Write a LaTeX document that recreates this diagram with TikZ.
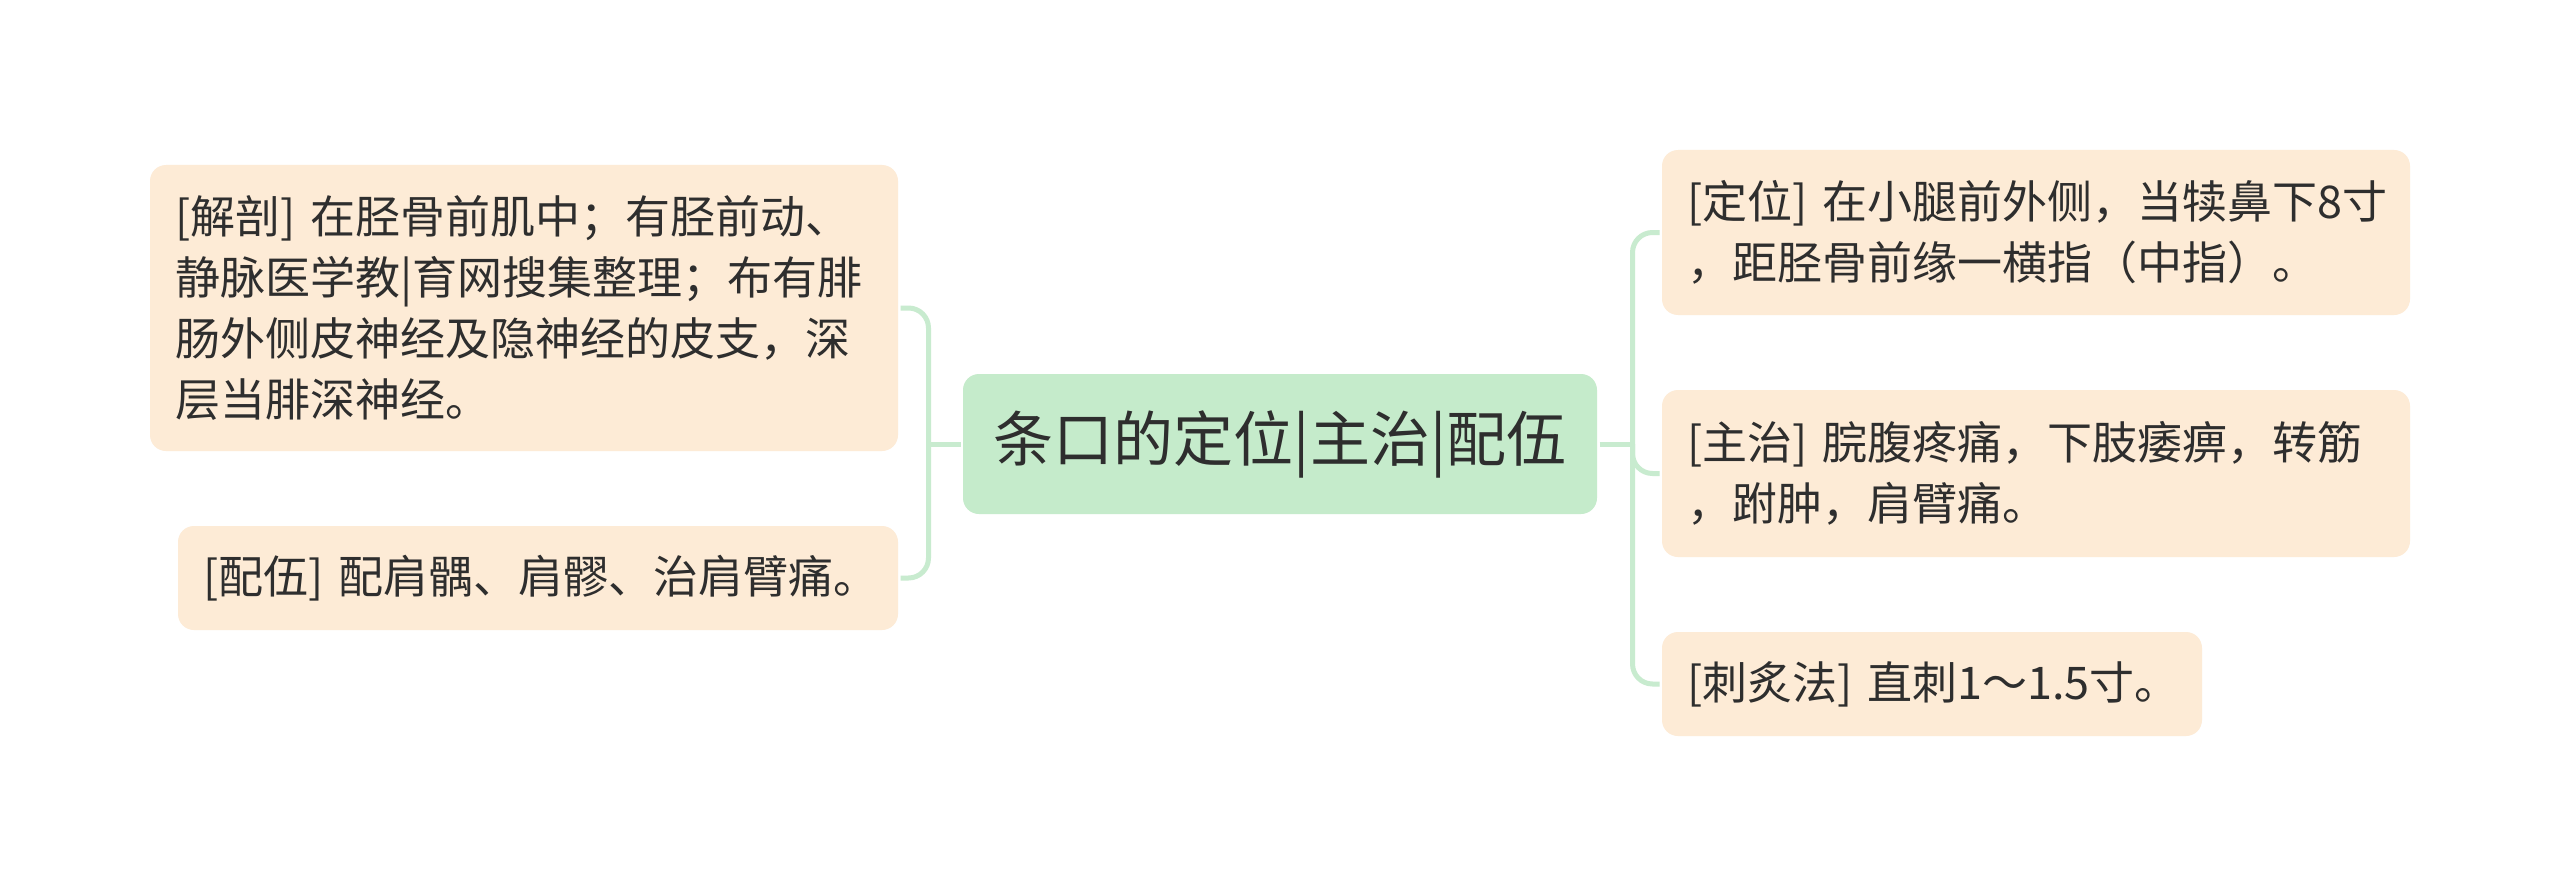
\documentclass[tikz,border=0pt]{standalone}
\usepackage{fontspec}
\setmainfont{Noto Sans CJK SC}
\usetikzlibrary{positioning, calc}
\definecolor{cgreen}{HTML}{C5EBCB}
\definecolor{cpeach}{HTML}{FDEBD6}
\definecolor{cline}{HTML}{C8EBCF}
\definecolor{ctext}{HTML}{2E2E2E}
\tikzset{
  every picture/.style={line width=5pt},
  topic/.style={fill=cgreen, rounded corners=16pt, text=ctext, font=\fontsize{60}{72}\selectfont, minimum width=634pt, minimum height=140pt, inner sep=0pt},
  leaf/.style={fill=cpeach, rounded corners=16pt, text=ctext, font=\fontsize{45}{61}\selectfont, align=left, inner xsep=25pt, inner ysep=0pt, text width=#1},
  leaf/.default=698pt,
  link/.style={draw=cline, rounded corners=20pt},
}

\begin{document}
\begin{tikzpicture}[x=1pt, y=-1pt]
  \useasboundingbox[fill=white] (0,0) rectangle (2560,888);
  % central topic
  \node[topic] (c) at (1280,444) {条口的定位|主治|配伍};
  % left side
  \node[leaf, minimum height=286pt] (jp) at (524,308) {[解剖]~在胫骨前肌中；有胫前动、\\静脉医学教|育网搜集整理；布有腓\\肠外侧皮神经及隐神经的皮支，深\\层当腓深神经。};
  \node[leaf=670pt, minimum height=104pt] (pw) at (538,578) {[配伍]~配肩髃、肩髎、治肩臂痛。};
  % right side
  \node[leaf, minimum height=165pt] (dw) at (2036,232.5) {[定位]~在小腿前外侧，当犊鼻下8寸\\，距胫骨前缘一横指（中指）。};
  \node[leaf, minimum height=167pt] (zz) at (2036,473.5) {[主治]~脘腹疼痛，下肢痿痹，转筋\\，跗肿，肩臂痛。};
  \node[leaf=490pt, minimum height=104pt] (cj) at (1932,684) {[刺炙法]~直刺1～1.5寸。};
  % links
  \coordinate (lj) at ($(c.west)+(-32,0)$);
  \coordinate (rj) at ($(c.east)+(33,0)$);
  \draw[link] (c.west) -- (lj);
  \draw[link] (lj) |- (jp.east);
  \draw[link] (lj) |- (pw.east);
  \draw[link] (c.east) -- (rj);
  \draw[link] (rj) |- (dw.west);
  \draw[link] (rj) |- (zz.west);
  \draw[link] (rj) |- (cj.west);
\end{tikzpicture}
\end{document}
